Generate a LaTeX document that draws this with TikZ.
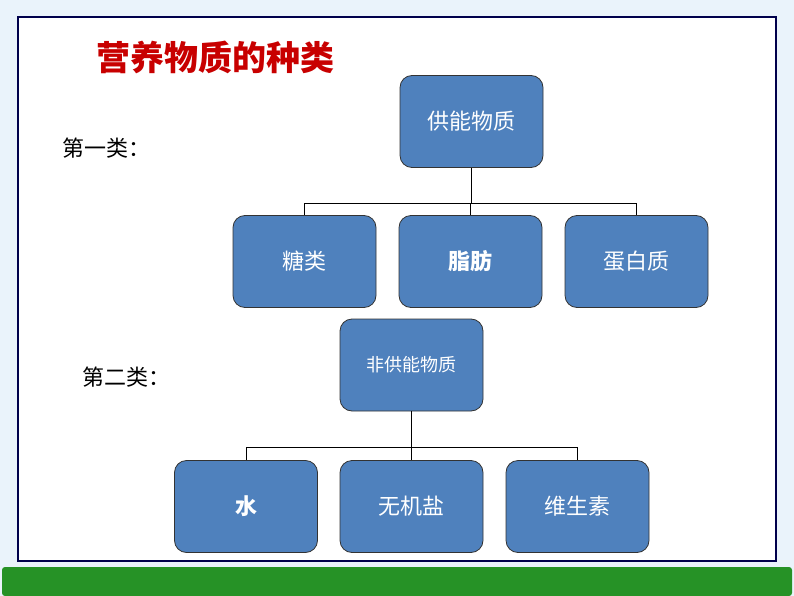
\documentclass[tikz,border=0pt]{standalone}
\usepackage{fontspec}
\newfontfamily\cjk{Noto Sans CJK SC}
\definecolor{bg}{RGB}{234,243,251}
\definecolor{boxblue}{RGB}{79,129,189}
\definecolor{titlered}{RGB}{200,0,0}
\definecolor{barGreen}{RGB}{38,146,38}
\begin{document}
\begin{tikzpicture}[x=1pt,y=-1pt]
	\tikzstyle{bx} = [draw=black!80,fill=boxblue,rounded corners=12pt,line width=0.8pt,text=white,minimum width=143pt,minimum height=92pt,font=\cjk\fontsize{22}{22}\selectfont];
	\tikzstyle{ln} = [draw,line width=0.9pt,color=black];
	\path [fill=bg] (0,0) rectangle (794,596);
	\path [fill=white,draw=black!70!blue,line width=1.2pt] (18,17) rectangle (776,561);
	\path [fill=barGreen,rounded corners=3pt] (2,567) rectangle (792,596);
	\node (title) at (215,57) [text=titlered,font=\cjk\bfseries\fontsize{34}{34}\selectfont] {营养物质的种类};
	\node (c1) at (106,148) [font=\cjk\fontsize{22}{22}\selectfont] {第一类：};
	\node (c2) at (126,377) [font=\cjk\fontsize{22}{22}\selectfont] {第二类：};
	\node (top) at (471.5,121.5) [bx] {供能物质};
	\node (tang) at (304.5,261.5) [bx] {糖类};
	\node (zhi) at (470.5,261.5) [bx,font=\cjk\bfseries\fontsize{22}{22}\selectfont] {脂肪};
	\node (dan) at (636.5,261.5) [bx] {蛋白质};
	\node (non) at (411.5,365) [bx,font=\cjk\fontsize{18}{18}\selectfont] {非供能物质};
	\node (shui) at (246,506.5) [bx,font=\cjk\bfseries\fontsize{22}{22}\selectfont] {水};
	\node (yan) at (411.5,506.5) [bx] {无机盐};
	\node (wei) at (577.5,506.5) [bx] {维生素};
	% connectors
	\path [ln] (top.south) -- (top.south |- 0,203) -| (tang.north);
	\path [ln] (top.south |- 0,203) -| (dan.north);
	\path [ln] (top.south |- 0,203) -| (zhi.north);
	\path [ln] (non.south) -- (non.south |- 0,447) -| (shui.north);
	\path [ln] (non.south |- 0,447) -| (wei.north);
	\path [ln] (non.south |- 0,447) -- (yan.north);
\end{tikzpicture}
\end{document}
